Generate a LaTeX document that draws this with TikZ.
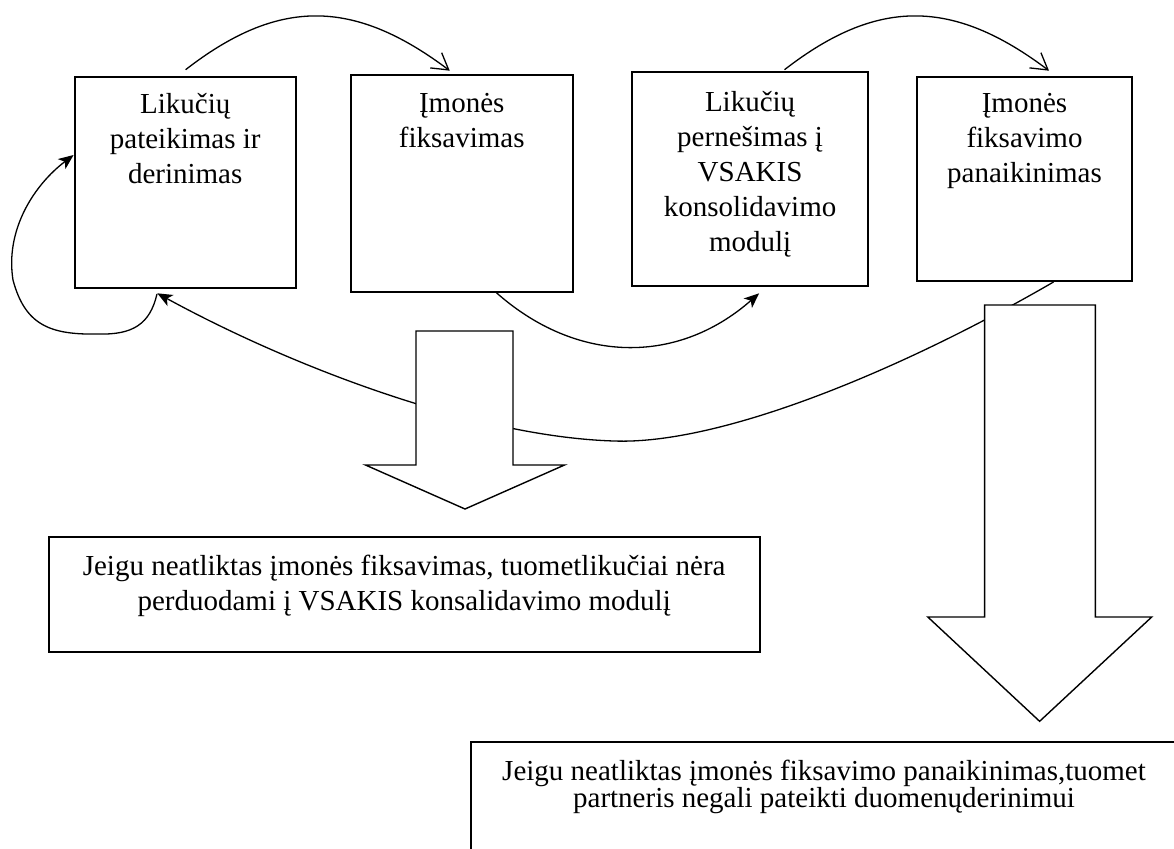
\documentclass[tikz,border=0pt]{standalone}
\usepackage{fontspec}
\setmainfont{Liberation Serif}
\usetikzlibrary{arrows.meta}
\begin{document}
\begin{tikzpicture}[x=1pt,y=-1pt,
  box/.style={draw, line width=2pt, rectangle, inner sep=0pt},
  lbl/.style={anchor=north, inner sep=0pt, align=center, font=\fontsize{29}{35}\selectfont},
  lbltight/.style={anchor=north, inner sep=0pt, align=center, font=\fontsize{29}{27}\selectfont},
  conn/.style={line width=1.3pt},
  vtip/.style={conn, -{Straight Barb[length=16pt,width=19pt]}},
  ftip/.style={conn, -{Stealth[length=15pt,width=12.5pt,inset=4pt]}},
  blockarrow/.style={draw, fill=white, line width=1.4pt, line join=miter}]
\useasboundingbox (0,0) rectangle (1174,848);
\clip (0,0) rectangle (1174,848);

% process boxes
\node[box, minimum width=221.2pt, minimum height=211.6pt] (b1) at (185.2,182.5) {};
\node[box, minimum width=221.5pt, minimum height=217.3pt] (b2) at (461.75,183.65) {};
\node[box, minimum width=235.6pt, minimum height=214pt] (b3) at (750.1,178.7) {};
\node[box, minimum width=215.6pt, minimum height=204.3pt] (b4) at (1024.5,178.85) {};

\node[lbl] (t1) at ([yshift=-17.8pt]b1.north) {Likučių\\pateikimas ir\\derinimas};
\node[lbl] (t2) at ([yshift=-18.8pt]b2.north) {Įmonės\\fiksavimas};
\node[lbl] (t3) at ([yshift=-20.5pt]b3.north) {Likučių\\pernešimas į\\VSAKIS\\konsolidavimo\\modulį};
\node[lbl] (t4) at ([yshift=-17.1pt]b4.north) {Įmonės\\fiksavimo\\panaikinimas};

% helper points
\coordinate (lowpt) at (614,441);
\coordinate (lpA) at (98,334);
\coordinate (lpB) at (13,280);

% top arrows
\draw[vtip] ([xshift=0.4pt,yshift=6pt]b1.north) .. controls +(92.4,-71.7) and +(-96.7,-72.7) .. ([xshift=-12pt,yshift=3.3pt]b2.north);
\draw[vtip] ([xshift=34.4pt,yshift=1pt]b3.north) .. controls +(92.4,-71.7) and +(-96.5,-72.7) .. ([xshift=24.5pt,yshift=5pt]b4.north);

% bottom arrow b2 -> b3
\draw[ftip] ([xshift=33.85pt,yshift=1.3pt]b2.south) .. controls +(79.4,71) and +(-83,73) .. ([xshift=9pt,yshift=-6.6pt]b3.south);

% long arrow b4 -> b1
\draw[ftip] ([xshift=29pt]b4.south) .. controls +(-153.5,89) and +(106,4) .. (lowpt)
   .. controls +(-134,-4) and +(141,77) .. ([xshift=-27.9pt,yshift=-4pt]b1.south);

% self loop on b1
\draw[ftip] ([xshift=-28.2pt,yshift=-4.7pt]b1.south) .. controls +(-7,30) and +(35,1) .. (lpA)
   .. controls +(-48,1) and +(12,45) .. (lpB)
   .. controls +(-8,-50) and +(-39.6,30) .. ([yshift=27.5pt]b1.west);

% block arrows
\draw[blockarrow] (416,331) -- (513,331) -- (513,465) -- (564.5,465) -- (465,509) -- (365.5,465) -- (416,465) -- cycle;
\draw[blockarrow] (984.6,305) -- (1095.4,305) -- (1095.4,617) -- (1151.7,617) -- (1039.6,721.3) -- (927.8,617) -- (984.6,617) -- cycle;

% note boxes
\node[box, minimum width=711.1pt, minimum height=114.7pt] (b5) at (404.15,594.35) {};
\node[lbl] (t5) at ([yshift=-19.2pt]b5.north) {Jeigu neatliktas įmonės fiksavimas, tuometlikučiai nėra\\perduodami į VSAKIS konsalidavimo modulį};
\node[box, minimum width=706pt, minimum height=127.7pt] (b6) at (824,806.15) {};
\node[lbltight] (t6) at ([yshift=-19pt]b6.north) {Jeigu neatliktas įmonės fiksavimo panaikinimas,tuomet\\partneris negali pateikti duomenųderinimui};
\end{tikzpicture}
\end{document}
